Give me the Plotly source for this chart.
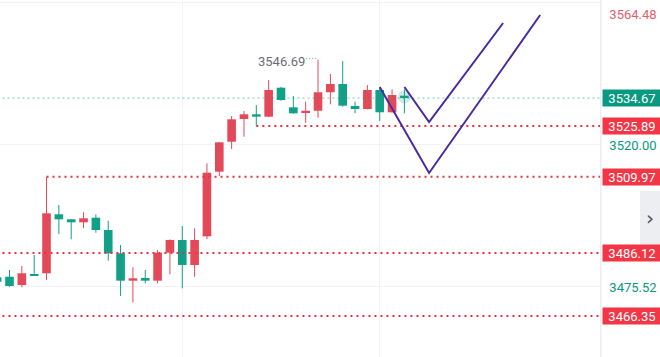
import plotly.graph_objects as go

# ---- candle data (index, OHLC) ----
idx = list(range(-1, 33))
opens = [3478.48, 3478.67, 3476.07, 3479.52, 3479.74, 3498.23, 3496.66, 3495.72, 3497.17, 3493.31,
         3486.01, 3477.42, 3478.26, 3477.42, 3486.19, 3490.17, 3482.34, 3491.33, 3511.59, 3520.99,
         3528.11, 3529.58, 3528.83, 3537.92, 3531.77, 3530.08, 3530.70, 3536.48, 3539.08, 3532.18,
         3531.24, 3537.20, 3530.21, 3535.41]
highs = [3479.20, 3480.77, 3482.02, 3485.47, 3509.97, 3501.15, 3496.70, 3498.86, 3498.23, 3496.22,
         3488.61, 3481.62, 3480.77, 3487.04, 3490.39, 3494.56, 3493.84, 3514.22, 3520.90, 3529.05,
         3530.61, 3532.49, 3540.33, 3538.20, 3535.32, 3533.53, 3546.69, 3542.21, 3546.29, 3533.53,
         3538.76, 3537.82, 3537.42, 3537.42]
lows = [3476.38, 3475.53, 3475.35, 3478.89, 3477.64, 3492.06, 3490.39, 3493.84, 3492.46, 3483.69,
        3472.62, 3470.58, 3476.60, 3476.60, 3479.42, 3475.03, 3478.67, 3490.49, 3510.24, 3518.70,
        3522.56, 3525.89, 3528.70, 3533.84, 3529.80, 3526.95, 3528.51, 3532.71, 3531.96, 3529.89,
        3531.10, 3527.48, 3530.10, 3529.89]
closes = [3477.10, 3475.75, 3479.74, 3478.90, 3498.54, 3496.66, 3495.72, 3496.98, 3493.31, 3486.01,
          3477.42, 3478.17, 3477.42, 3486.19, 3490.17, 3482.34, 3490.17, 3511.27, 3520.80, 3528.01,
          3529.58, 3528.83, 3537.20, 3534.06, 3529.89, 3530.70, 3536.48, 3539.08, 3532.27, 3531.24,
          3537.20, 3530.21, 3535.63, 3534.67]

# ---- level lines ----
level_prices = [3525.89, 3509.97, 3486.12, 3466.35]
level_start = [20, 3, -3, -3]
current_price = 3534.67

# ---- right axis labels ----
box_labels = [3534.67, 3525.89, 3509.97, 3486.12, 3466.35]
box_colors = ["#089981", "#f23645", "#f23645", "#f23645", "#f23645"]
grid_prices = [3475.52, 3520.00, 3564.48]
grid_times = [14, 30]

# ---- drawn V paths ----
path1_x = [30, 34, 43]
path1_y = [3538.14, 3511.18, 3560.71]
path2_x = [32, 34, 40]
path2_y = [3538.14, 3527.16, 3558.20]

high_label_idx = 25
high_label_price = 3546.69

UP = "#e24a59"
DOWN = "#12a086"

fig = go.Figure()

colors = [UP if c >= o else DOWN for o, c in zip(opens, closes)]
base = [min(o, c) for o, c in zip(opens, closes)]
height = [max(abs(c - o), 0.6) for o, c in zip(opens, closes)]

for p, s in zip(level_prices, level_start):
    fig.add_trace(go.Scatter(x=[s, 50], y=[p, p], mode="lines",
                             line=dict(color="#ee2f3d", width=2, dash="2px,4px"),
                             hoverinfo="skip", showlegend=False))
fig.add_trace(go.Scatter(x=[-3, 50], y=[current_price, current_price], mode="lines",
                         line=dict(color="rgba(8,153,129,0.55)", width=1, dash="2px,3px"),
                         hoverinfo="skip", showlegend=False))

fig.add_trace(go.Bar(x=idx, base=base, y=height, width=0.7,
                     marker=dict(color=colors, line=dict(width=0)),
                     hoverinfo="skip", showlegend=False))

for col in (UP, DOWN):
    wx, wy = [], []
    for i, o, h, l, c, cc in zip(idx, opens, highs, lows, closes, colors):
        if cc == col:
            wx += [i, i, None]
            wy += [l, h, None]
    fig.add_trace(go.Scatter(x=wx, y=wy, mode="lines", line=dict(color=col, width=1),
                             hoverinfo="skip", showlegend=False))

fig.add_trace(go.Scatter(x=[idx[-1]], y=[(opens[-1] + closes[-1]) / 2], mode="markers",
                         marker=dict(size=13, color="rgba(8,153,129,0.2)"),
                         hoverinfo="skip", showlegend=False))

fig.add_trace(go.Scatter(x=[high_label_idx - 0.95, high_label_idx], y=[high_label_price + 0.4] * 2,
                         mode="lines", line=dict(color="#9598a1", width=1, dash="1px,2px"),
                         hoverinfo="skip", showlegend=False))

for px_, py_ in ((path1_x, path1_y), (path2_x, path2_y)):
    fig.add_trace(go.Scatter(x=px_, y=py_, mode="lines",
                             line=dict(color="#4a2a9e", width=2),
                             hoverinfo="skip", showlegend=False))

annotations = []
for p, col in zip(box_labels, box_colors):
    annotations.append(dict(x=1, xref="paper", y=p, yref="y", xanchor="left", yanchor="middle",
                            xshift=2, text=f"{p:.2f}", showarrow=False, bgcolor=col,
                            width=58, height=16, borderpad=0,
                            font=dict(color="white", size=13, family="Roboto")))
for p in grid_prices[:2]:
    annotations.append(dict(x=1, xref="paper", y=p, yref="y", xanchor="left", yanchor="middle",
                            xshift=2, text=f"{p:.2f}", showarrow=False, width=58, height=16,
                            font=dict(color="#089981", size=13, family="Roboto")))
annotations.append(dict(x=1, xref="paper", y=1, yref="paper", xanchor="left", yanchor="top",
                        xshift=2, yshift=-4, text=f"{grid_prices[2]:.2f}", showarrow=False,
                        width=58, height=16,
                        font=dict(color="#e0606b", size=13, family="Roboto")))
annotations.append(dict(x=high_label_idx - 1, y=high_label_price, xref="x", yref="y",
                        xanchor="right", yanchor="middle", yshift=-2, xshift=1,
                        text=f"{high_label_price:.2f}", showarrow=False,
                        font=dict(color="#6a6d78", size=13, family="Roboto")))
annotations.append(dict(x=650 / 600, y=1 - 218 / 357, xref="paper", yref="paper",
                        text="›", showarrow=False, xanchor="center", yanchor="middle",
                        font=dict(color="#50535e", size=20, family="DejaVu Sans")))

shapes = [
    dict(type="line", xref="paper", yref="paper", x0=1.0015, x1=1.0015, y0=0, y1=1,
         line=dict(color="#e0e3eb", width=1)),
    dict(type="rect", xref="paper", yref="paper", x0=640 / 600, x1=1.1, y0=1 - 245 / 357,
         y1=1 - 191 / 357, fillcolor="#eceef2", line=dict(width=0), layer="below"),
]

fig.update_layout(
    width=660, height=357, margin=dict(l=0, r=60, t=0, b=0),
    paper_bgcolor="white", plot_bgcolor="white", barmode="overlay",
    showlegend=False, annotations=annotations, shapes=shapes,
    xaxis=dict(range=[-0.77, 47.85], tickvals=grid_times, showticklabels=False,
               showgrid=True, gridcolor="#f0f3fa", zeroline=False, showline=False, fixedrange=True),
    yaxis=dict(range=[3453.50, 3565.41], tickvals=grid_prices, showticklabels=False,
               showgrid=True, gridcolor="#f0f3fa", zeroline=False, showline=False, fixedrange=True),
)

fig.write_html("out.html", config={"displayModeBar": False},
               post_script="document.body.style.margin='0';document.body.style.overflow='hidden';")
